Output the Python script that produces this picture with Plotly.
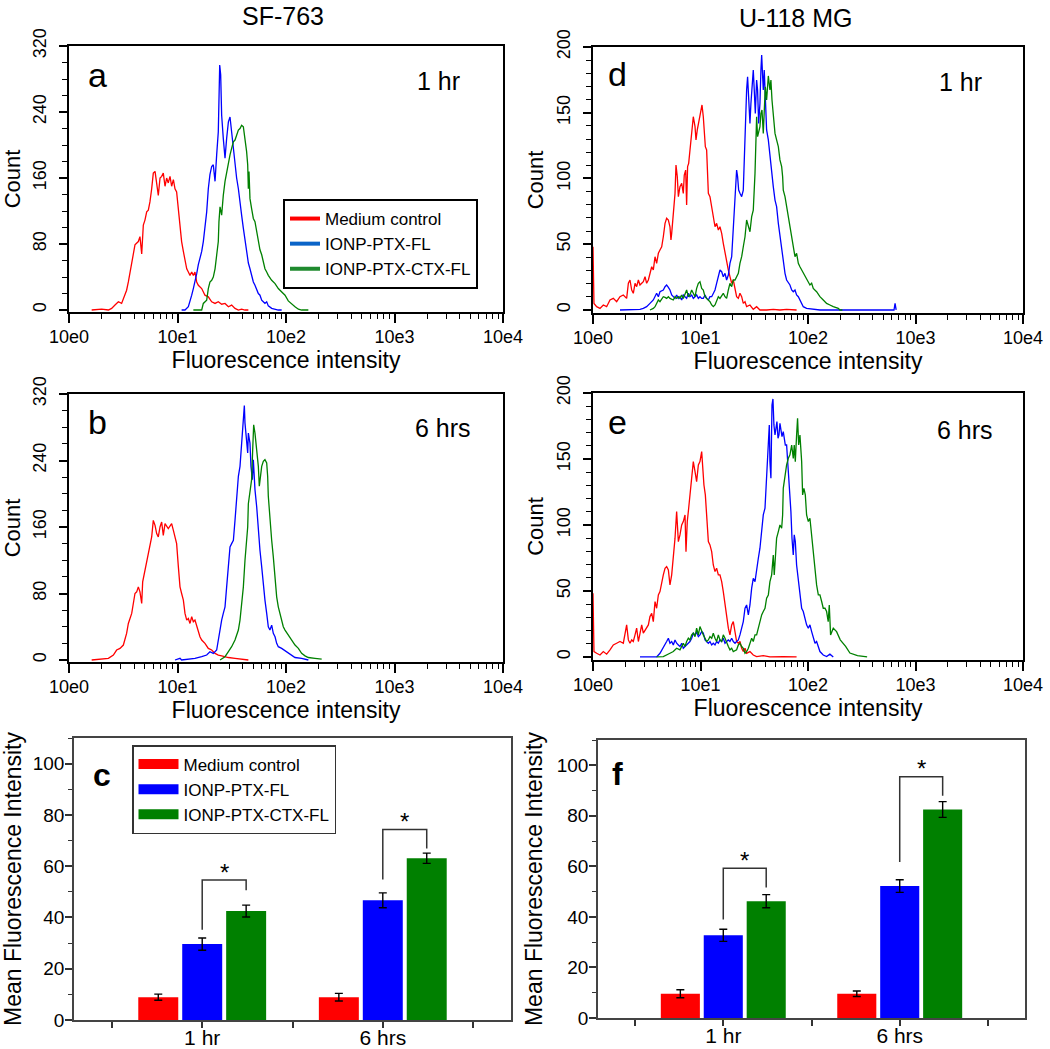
import plotly.graph_objects as go

FONT = "Liberation Sans, Arial, sans-serif"
W, H = 1050, 1049
RED, BLUE, GREEN = "#ff0000", "#0000ff", "#008000"

# ---------------- histogram data: log10(fluorescence intensity), count ----------------
a_red_lx = [0.209, 0.301, 0.363, 0.393, 0.424, 0.455, 0.485, 0.501, 0.531, 0.547, 0.562, 0.593, 0.608, 0.639, 0.654,
            0.670, 0.685, 0.700, 0.716, 0.731, 0.746, 0.762, 0.777, 0.793, 0.808, 0.823, 0.839, 0.854, 0.869, 0.885,
            0.900, 0.915, 0.931, 0.946, 0.962, 0.977, 0.992, 1.008, 1.023, 1.038, 1.054, 1.069, 1.085, 1.100, 1.115,
            1.131, 1.146, 1.161, 1.177, 1.192, 1.223, 1.253, 1.284, 1.315, 1.346, 1.376, 1.407, 1.438, 1.469, 1.499,
            1.530, 1.561, 1.591, 1.622, 1.653]
a_red_ct = [0, 1, 0, 2, 6, 10, 8, 14, 24, 34, 44, 67, 79, 83, 89, 68, 103, 109, 119, 121, 131, 147, 166, 168, 150,
            139, 160, 162, 166, 150, 160, 154, 162, 150, 158, 147, 143, 119, 95, 83, 71, 59, 50, 46, 42, 46, 42, 46,
            34, 30, 26, 18, 16, 10, 8, 10, 7, 8, 4, 6, 2, 0, 1, 0, 0]
a_blue_lx = [1.038, 1.069, 1.100, 1.115, 1.131, 1.146, 1.161, 1.177, 1.192, 1.207, 1.223, 1.238, 1.253, 1.269, 1.284,
             1.299, 1.315, 1.330, 1.346, 1.352, 1.361, 1.376, 1.382, 1.389, 1.398, 1.407, 1.422, 1.438, 1.453, 1.469,
             1.484, 1.499, 1.515, 1.530, 1.545, 1.561, 1.576, 1.591, 1.607, 1.622, 1.637, 1.653, 1.668, 1.683, 1.699,
             1.714, 1.730, 1.745, 1.760, 1.776, 1.791, 1.806, 1.822, 1.837, 1.868, 1.899, 1.929, 1.960]
a_blue_ct = [0, 0, 4, 10, 18, 26, 34, 44, 55, 63, 71, 83, 99, 119, 147, 164, 174, 176, 156, 172, 188, 216, 269, 297,
             285, 236, 208, 184, 208, 228, 234, 216, 192, 172, 160, 147, 127, 115, 99, 83, 67, 57, 50, 40, 34, 30, 24,
             20, 18, 12, 10, 8, 10, 5, 2, 1, 0, 0]
a_green_lx = [1.146, 1.223, 1.238, 1.253, 1.269, 1.284, 1.299, 1.315, 1.330, 1.346, 1.361, 1.376, 1.382, 1.392, 1.407,
              1.413, 1.422, 1.438, 1.453, 1.469, 1.484, 1.499, 1.515, 1.530, 1.545, 1.561, 1.576, 1.591, 1.607, 1.622,
              1.637, 1.647, 1.653, 1.659, 1.668, 1.683, 1.699, 1.714, 1.730, 1.745, 1.760, 1.776, 1.791, 1.806, 1.822,
              1.837, 1.868, 1.899, 1.929, 1.960, 1.991, 2.021, 2.052, 2.083, 2.114, 2.144, 2.206]
a_green_ct = [0, 0, 8, 10, 12, 26, 34, 36, 40, 50, 67, 83, 107, 125, 115, 131, 139, 156, 168, 180, 188, 196, 204, 206,
              212, 218, 220, 224, 222, 208, 192, 176, 147, 168, 135, 123, 111, 107, 95, 83, 73, 67, 59, 50, 46, 42,
              36, 32, 26, 22, 18, 11, 7, 4, 1, 0, 0]

b_red_lx = [0.209, 0.301, 0.363, 0.409, 0.439, 0.470, 0.501, 0.531, 0.547, 0.578, 0.593, 0.608, 0.624, 0.639, 0.654,
            0.670, 0.679, 0.700, 0.716, 0.731, 0.746, 0.762, 0.777, 0.793, 0.808, 0.823, 0.839, 0.854, 0.869, 0.885,
            0.915, 0.946, 0.962, 0.977, 0.992, 1.008, 1.023, 1.038, 1.054, 1.069, 1.085, 1.100, 1.115, 1.131, 1.146,
            1.161, 1.177, 1.192, 1.207, 1.223, 1.253, 1.284, 1.315, 1.346, 1.376, 1.407, 1.438, 1.469, 1.530, 1.591,
            1.653]
b_red_ct = [0, 1, 2, 6, 12, 14, 18, 32, 44, 56, 68, 80, 82, 88, 82, 68, 94, 108, 116, 124, 136, 148, 168, 162, 152,
            148, 160, 166, 150, 164, 158, 164, 156, 146, 140, 112, 88, 80, 72, 56, 48, 50, 44, 52, 46, 48, 40, 32, 28,
            24, 20, 14, 12, 8, 6, 5, 4, 3, 2, 1, 0]
b_blue_lx = [0.977, 1.023, 1.038, 1.115, 1.161, 1.223, 1.269, 1.299, 1.330, 1.361, 1.376, 1.392, 1.407, 1.422, 1.438,
             1.453, 1.469, 1.484, 1.499, 1.515, 1.530, 1.545, 1.561, 1.576, 1.591, 1.607, 1.616, 1.622, 1.637, 1.647,
             1.653, 1.668, 1.677, 1.690, 1.699, 1.714, 1.730, 1.745, 1.760, 1.776, 1.791, 1.806, 1.822, 1.837, 1.852,
             1.868, 1.883, 1.899, 1.914, 1.929, 1.960, 1.991, 2.021, 2.052, 2.083, 2.144, 2.206]
b_blue_ct = [0, 2, 0, 1, 2, 4, 6, 10, 8, 12, 24, 40, 48, 56, 64, 88, 120, 136, 140, 144, 168, 196, 221, 233, 265, 301,
             306, 285, 265, 249, 273, 261, 233, 217, 241, 205, 184, 152, 132, 112, 88, 72, 56, 40, 36, 42, 32, 28, 20,
             16, 14, 11, 8, 5, 3, 2, 0]
b_green_lx = [1.392, 1.438, 1.469, 1.499, 1.530, 1.561, 1.576, 1.591, 1.607, 1.622, 1.637, 1.647, 1.653, 1.668, 1.683,
              1.693, 1.702, 1.714, 1.730, 1.745, 1.754, 1.763, 1.776, 1.791, 1.806, 1.822, 1.831, 1.837, 1.852, 1.868,
              1.883, 1.899, 1.914, 1.929, 1.945, 1.960, 1.975, 1.991, 2.021, 2.052, 2.083, 2.114, 2.144, 2.175, 2.206,
              2.267, 2.329]
b_green_ct = [0, 4, 10, 16, 24, 36, 48, 64, 88, 120, 144, 160, 188, 205, 217, 253, 283, 273, 249, 233, 209, 221, 233,
              239, 241, 237, 221, 197, 168, 144, 124, 100, 76, 64, 56, 48, 40, 36, 30, 24, 18, 14, 8, 5, 3, 2, 1]

d_red_lx = [0.0, 0.009, 0.034, 0.065, 0.096, 0.127, 0.158, 0.189, 0.220, 0.251, 0.282, 0.313, 0.329, 0.344, 0.360,
            0.375, 0.391, 0.406, 0.422, 0.437, 0.453, 0.468, 0.484, 0.499, 0.515, 0.530, 0.546, 0.561, 0.577, 0.592,
            0.608, 0.623, 0.639, 0.654, 0.670, 0.685, 0.701, 0.716, 0.725, 0.732, 0.747, 0.763, 0.772, 0.784, 0.794,
            0.809, 0.825, 0.840, 0.849, 0.862, 0.871, 0.880, 0.890, 0.902, 0.918, 0.933, 0.949, 0.958, 0.970, 0.986,
            1.001, 1.014, 1.026, 1.035, 1.045, 1.057, 1.073, 1.088, 1.104, 1.119, 1.135, 1.150, 1.166, 1.181, 1.197,
            1.212, 1.228, 1.243, 1.259, 1.274, 1.290, 1.305, 1.321, 1.336, 1.352, 1.367, 1.383, 1.398, 1.414, 1.429,
            1.460, 1.491, 1.522, 1.553, 1.615, 1.677, 1.739, 1.801, 1.894]
d_red_ct = [48, 5, 2.5, 1.2, 3.8, 2.5, 7.6, 8.8, 6.3, 10.1, 11.4, 8.8, 20.3, 22.8, 15.2, 12.7, 20.3, 17.7, 22.8, 19.0,
            20.3, 21.5, 25.3, 20.3, 22.8, 27.9, 32.9, 30.4, 40.5, 35.5, 43.1, 45.6, 48.1, 55.7, 65.9, 69.7, 68.4,
            63.3, 53.2, 58.3, 73.5, 88.7, 110.2, 101.4, 86.2, 93.8, 96.3, 88.7, 102.6, 106.4, 79.8, 109.0, 111.5,
            121.7, 136.9, 147.0, 139.4, 129.3, 136.9, 144.5, 149.5, 155.9, 147.0, 136.9, 124.2, 121.7, 88.7, 86.2,
            78.6, 68.4, 63.3, 65.9, 60.8, 63.3, 58.3, 50.7, 43.1, 35.5, 30.4, 25.3, 20.3, 22.8, 15.2, 10.1, 8.8, 12.7,
            10.1, 5.0, 6.3, 2.5, 3.8, 0.5, 2.5, 0, 0, 0.5, 0, 0.5, 0]
d_blue_lx = [0.251, 0.282, 0.375, 0.437, 0.468, 0.499, 0.530, 0.561, 0.592, 0.608, 0.623, 0.654, 0.670, 0.685, 0.701,
             0.716, 0.732, 0.747, 0.763, 0.778, 0.794, 0.809, 0.825, 0.840, 0.856, 0.871, 0.887, 0.902, 0.918, 0.933,
             0.949, 0.964, 0.980, 0.995, 1.011, 1.026, 1.042, 1.057, 1.073, 1.088, 1.104, 1.119, 1.135, 1.150, 1.166,
             1.181, 1.197, 1.212, 1.228, 1.243, 1.259, 1.274, 1.290, 1.305, 1.321, 1.336, 1.345, 1.355, 1.367, 1.383,
             1.398, 1.407, 1.417, 1.429, 1.438, 1.448, 1.460, 1.469, 1.482, 1.491, 1.500, 1.510, 1.522, 1.531, 1.541,
             1.553, 1.562, 1.569, 1.578, 1.584, 1.593, 1.603, 1.615, 1.631, 1.646, 1.662, 1.677, 1.693, 1.708, 1.724,
             1.739, 1.755, 1.770, 1.786, 1.801, 1.817, 1.832, 1.848, 1.863, 1.879, 1.894, 1.910, 1.925, 1.956, 1.987,
             2.049, 2.111, 2.173, 2.800, 2.810, 2.820]
d_blue_ct = [0, 0, 0, 0.5, 1.2, 2.5, 5.0, 7.6, 12.7, 10.1, 13.9, 15.2, 17.7, 19.0, 17.2, 15.2, 11.4, 10.1, 8.8, 11.4,
             8.8, 10.1, 7.6, 11.4, 10.1, 8.8, 12.7, 10.1, 11.4, 8.8, 10.1, 11.4, 8.8, 10.1, 8.8, 8.8, 11.4, 8.8, 7.6,
             10.1, 10.1, 12.7, 15.2, 20.3, 25.3, 30.4, 29.1, 25.3, 27.9, 22.8, 26.6, 35.5, 40.5, 63.3, 93.8, 106.4,
             101.4, 91.2, 88.7, 86.2, 91.2, 116.6, 144.5, 167.3, 177.4, 159.7, 141.9, 157.1, 174.9, 182.5, 167.3,
             149.5, 174.9, 167.3, 141.9, 157.1, 182.5, 193.9, 177.4, 167.3, 182.5, 164.7, 136.9, 129.3, 116.6, 101.4,
             93.8, 83.6, 78.6, 65.9, 55.7, 45.6, 35.5, 27.9, 22.8, 20.3, 19.0, 15.2, 13.9, 15.2, 11.4, 10.1, 7.6, 2.5,
             1.2, 0.5, 0, 0, 0, 5, 0]
d_green_lx = [0.530, 0.561, 0.577, 0.592, 0.608, 0.623, 0.639, 0.654, 0.670, 0.685, 0.701, 0.716, 0.747, 0.763, 0.778,
              0.794, 0.809, 0.825, 0.840, 0.856, 0.871, 0.887, 0.902, 0.918, 0.933, 0.949, 0.964, 0.980, 0.995, 1.011,
              1.026, 1.042, 1.057, 1.073, 1.088, 1.104, 1.119, 1.135, 1.150, 1.166, 1.181, 1.197, 1.212, 1.228, 1.243,
              1.259, 1.274, 1.290, 1.305, 1.321, 1.336, 1.352, 1.367, 1.383, 1.398, 1.414, 1.429, 1.445, 1.460, 1.476,
              1.491, 1.507, 1.516, 1.522, 1.531, 1.541, 1.553, 1.562, 1.572, 1.584, 1.593, 1.603, 1.615, 1.631, 1.646,
              1.655, 1.665, 1.677, 1.693, 1.708, 1.724, 1.739, 1.755, 1.764, 1.770, 1.786, 1.801, 1.817, 1.832, 1.848,
              1.863, 1.879, 1.894, 1.910, 1.925, 1.941, 1.956, 1.972, 1.987, 2.003, 2.018, 2.034, 2.049, 2.080, 2.111,
              2.142, 2.173, 2.204, 2.235, 2.282, 2.297, 2.320]
d_green_ct = [0, 1.2, 2.5, 5.0, 7.6, 6.3, 8.8, 10.1, 9.6, 8.8, 10.1, 8.8, 7.6, 10.1, 8.8, 10.1, 8.8, 11.4, 8.8, 12.7,
              15.2, 10.1, 11.4, 15.2, 12.7, 10.1, 16.4, 20.3, 21.5, 16.4, 15.2, 10.1, 8.8, 7.6, 6.3, 3.8, 2.5, 3.8,
              7.6, 10.1, 8.8, 11.4, 12.7, 10.1, 8.8, 15.2, 20.3, 17.7, 22.8, 22.8, 25.3, 27.9, 35.5, 40.5, 48.1, 55.7,
              68.4, 63.3, 59.5, 71.0, 76.0, 103.9, 124.2, 147.0, 131.8, 136.9, 139.4, 149.5, 152.1, 134.3, 152.1,
              169.8, 159.7, 178.0, 167.3, 174.9, 159.7, 147.0, 134.3, 129.3, 124.2, 114.1, 109.0, 101.4, 91.2, 86.2,
              78.6, 68.4, 60.8, 53.2, 45.6, 40.5, 43.1, 35.5, 32.9, 30.4, 27.9, 25.3, 22.8, 20.3, 19.0, 20.3, 16.4,
              13.9, 10.1, 7.6, 5.0, 3.8, 2.5, 1.2, 0, 0]

e_red_lx = [0.0, 0.009, 0.034, 0.065, 0.096, 0.127, 0.158, 0.189, 0.220, 0.251, 0.282, 0.298, 0.313, 0.329, 0.344,
            0.360, 0.375, 0.391, 0.406, 0.422, 0.437, 0.453, 0.468, 0.484, 0.499, 0.515, 0.530, 0.546, 0.561, 0.577,
            0.592, 0.608, 0.623, 0.639, 0.654, 0.670, 0.685, 0.701, 0.716, 0.732, 0.747, 0.763, 0.778, 0.794, 0.809,
            0.825, 0.840, 0.856, 0.865, 0.877, 0.890, 0.902, 0.918, 0.933, 0.949, 0.964, 0.980, 0.995, 1.011, 1.020,
            1.032, 1.045, 1.057, 1.073, 1.088, 1.104, 1.119, 1.135, 1.150, 1.166, 1.181, 1.197, 1.212, 1.228, 1.243,
            1.259, 1.274, 1.290, 1.305, 1.321, 1.336, 1.352, 1.367, 1.383, 1.398, 1.414, 1.429, 1.460, 1.491, 1.522,
            1.584, 1.646, 1.770, 1.894]
e_red_ct = [48.3, 4.1, 2.8, 1.5, 4.1, 2.1, 5.4, 9.1, 10.4, 11.7, 10.4, 16.7, 24.3, 12.9, 10.4, 12.9, 11.7, 16.7, 21.8,
            11.7, 19.2, 24.3, 18.0, 20.5, 21.8, 24.3, 30.6, 33.1, 26.8, 42.0, 36.9, 47.0, 49.5, 57.1, 62.2, 67.2,
            68.5, 65.9, 54.6, 62.2, 74.8, 90.0, 110.1, 87.4, 92.5, 100.0, 102.6, 107.6, 79.8, 102.6, 112.7, 122.8,
            135.4, 148.0, 140.4, 132.9, 145.5, 148.0, 155.6, 144.2, 130.3, 122.8, 102.6, 87.4, 84.9, 79.8, 69.7,
            64.7, 67.2, 62.2, 62.2, 57.1, 49.5, 39.4, 29.3, 21.8, 16.7, 24.3, 26.8, 19.2, 11.7, 10.4, 11.7, 6.6, 4.1,
            6.6, 2.8, 4.1, 1.5, 0.3, 1.0, 0, 0.3, 0]
e_blue_lx = [0.437, 0.468, 0.592, 0.623, 0.639, 0.654, 0.670, 0.685, 0.701, 0.716, 0.732, 0.747, 0.763, 0.778, 0.794,
             0.809, 0.825, 0.840, 0.856, 0.871, 0.887, 0.902, 0.918, 0.933, 0.949, 0.964, 0.980, 0.995, 1.011, 1.026,
             1.042, 1.057, 1.073, 1.088, 1.104, 1.119, 1.135, 1.150, 1.166, 1.181, 1.197, 1.212, 1.228, 1.243, 1.259,
             1.274, 1.290, 1.305, 1.321, 1.336, 1.352, 1.367, 1.383, 1.398, 1.414, 1.429, 1.445, 1.460, 1.476, 1.491,
             1.507, 1.522, 1.538, 1.553, 1.569, 1.584, 1.600, 1.615, 1.631, 1.640, 1.646, 1.655, 1.665, 1.674, 1.683,
             1.693, 1.702, 1.711, 1.721, 1.730, 1.739, 1.748, 1.758, 1.770, 1.779, 1.789, 1.801, 1.817, 1.832, 1.841,
             1.851, 1.863, 1.872, 1.882, 1.894, 1.910, 1.925, 1.941, 1.956, 1.972, 1.987, 2.003, 2.018, 2.034, 2.049,
             2.065, 2.080, 2.096, 2.111, 2.142, 2.173, 2.204, 2.235]
e_blue_ct = [0, 0, 0, 2.8, 5.4, 6.6, 10.4, 11.7, 14.2, 10.4, 11.7, 9.1, 12.9, 10.4, 9.1, 7.9, 10.4, 6.6, 7.9, 9.1,
             10.4, 11.7, 14.2, 18.0, 16.7, 18.7, 15.4, 16.7, 19.2, 18.0, 12.9, 11.7, 10.4, 11.7, 9.1, 10.4, 9.1, 11.7,
             10.4, 12.9, 11.7, 14.2, 10.4, 11.7, 12.9, 11.7, 14.2, 11.7, 10.4, 11.7, 12.9, 16.7, 21.8, 26.8, 36.9,
             39.4, 31.9, 39.4, 52.1, 59.6, 57.1, 67.2, 74.8, 82.4, 97.5, 107.6, 112.7, 135.4, 165.7, 175.8, 148.0,
             135.4, 190.9, 195.5, 175.8, 168.2, 173.3, 178.3, 165.7, 168.2, 177.0, 173.3, 166.9, 170.7, 165.7, 160.6,
             160.6, 140.4, 125.3, 110.1, 90.0, 77.3, 92.5, 87.4, 69.7, 57.1, 44.5, 36.9, 34.4, 29.3, 24.3, 21.8,
             24.3, 19.2, 14.2, 10.4, 11.7, 6.6, 4.1, 1.5, 0.3, 2.1, 0]
e_green_lx = [0.592, 0.654, 0.716, 0.747, 0.778, 0.809, 0.840, 0.856, 0.871, 0.887, 0.902, 0.918, 0.933, 0.949, 0.964,
              0.980, 0.995, 1.011, 1.026, 1.042, 1.057, 1.073, 1.088, 1.104, 1.119, 1.135, 1.150, 1.166, 1.181, 1.197,
              1.212, 1.228, 1.243, 1.259, 1.274, 1.290, 1.305, 1.336, 1.352, 1.367, 1.383, 1.398, 1.414, 1.429, 1.445,
              1.460, 1.476, 1.491, 1.507, 1.522, 1.538, 1.553, 1.569, 1.584, 1.600, 1.615, 1.631, 1.646, 1.662, 1.677,
              1.686, 1.696, 1.708, 1.724, 1.739, 1.755, 1.764, 1.770, 1.786, 1.801, 1.817, 1.832, 1.848, 1.863, 1.872,
              1.882, 1.894, 1.903, 1.913, 1.925, 1.941, 1.950, 1.962, 1.975, 1.987, 2.003, 2.018, 2.034, 2.049, 2.065,
              2.080, 2.096, 2.111, 2.127, 2.142, 2.158, 2.173, 2.188, 2.198, 2.210, 2.235, 2.266, 2.300, 2.350, 2.390,
              2.460, 2.550]
e_green_ct = [0, 0.3, 2.8, 4.1, 6.6, 5.4, 10.4, 7.9, 11.7, 14.2, 12.9, 16.7, 18.0, 15.4, 21.8, 16.7, 23.0, 19.2, 16.7,
              14.2, 11.7, 12.9, 15.4, 14.2, 18.0, 14.2, 11.7, 16.7, 12.9, 11.7, 16.7, 14.2, 10.4, 7.9, 5.4, 6.6, 4.1,
              5.4, 9.1, 10.4, 7.9, 6.6, 2.8, 4.1, 6.6, 10.4, 14.2, 11.7, 16.7, 16.7, 21.8, 26.8, 31.9, 34.4, 36.9,
              44.5, 47.0, 57.1, 62.2, 77.3, 62.2, 74.8, 90.0, 95.0, 100.0, 97.5, 107.6, 127.8, 137.9, 145.5, 150.5,
              153.1, 160.6, 150.5, 160.6, 148.0, 168.2, 180.8, 160.6, 168.2, 148.0, 122.8, 127.8, 122.8, 107.6, 102.6,
              105.1, 92.5, 79.8, 64.7, 54.6, 47.0, 47.0, 42.0, 36.9, 36.9, 34.4, 26.8, 39.4, 16.7, 21.8, 19.2, 13, 8,
              3, 1, 0]

# ---------------- bar chart data ----------------
bar_cats = [1, 2]
bar_labels = ["1 hr", "6 hrs"]
series_names = ["Medium control", "IONP-PTX-FL", "IONP-PTX-CTX-FL"]
c_red, c_red_err = [8.9, 8.9], [1.2, 1.5]
c_blue, c_blue_err = [29.6, 46.7], [2.4, 2.9]
c_green, c_green_err = [42.5, 63.1], [2.3, 2.0]
f_red, f_red_err = [9.6, 9.6], [1.6, 1.1]
f_blue, f_blue_err = [32.7, 52.2], [2.4, 2.5]
f_green, f_green_err = [46.2, 82.5], [2.6, 3.1]
# significance brackets: top level, left end, right end, star level
c_br_top, c_br_left, c_br_right, c_star = [54.6, 74.3], [35.2, 54.8], [50.6, 66.9], [59.3, 79.5]
f_br_top, f_br_left, f_br_right, f_star = [59.3, 95.5], [39.0, 61.7], [51.6, 87.9], [64.3, 100.7]

# ---------------- layout helpers ----------------
def xd(p0, p1):
    return [p0 / W, p1 / W]

def yd(top, bottom):
    return [1 - bottom / H, 1 - top / H]

BARGAP = 0.27
SLOT = (1 - BARGAP) / 3

fig = go.Figure()

def hist_traces(lx_ct, xa, ya):
    for (lx, ct), col in zip(lx_ct, [RED, BLUE, GREEN]):
        fig.add_trace(go.Scatter(x=[10 ** v for v in lx], y=ct, mode="lines",
                                 line=dict(color=col, width=1.3), xaxis=xa, yaxis=ya,
                                 showlegend=False, hoverinfo="skip"))

hist_traces([(a_red_lx, a_red_ct), (a_blue_lx, a_blue_ct), (a_green_lx, a_green_ct)], "x", "y")
hist_traces([(b_red_lx, b_red_ct), (b_blue_lx, b_blue_ct), (b_green_lx, b_green_ct)], "x2", "y2")
hist_traces([(d_red_lx, d_red_ct), (d_blue_lx, d_blue_ct), (d_green_lx, d_green_ct)], "x4", "y4")
hist_traces([(e_red_lx, e_red_ct), (e_blue_lx, e_blue_ct), (e_green_lx, e_green_ct)], "x5", "y5")

# legend entries for the histogram legend (panel a)
for name, col in zip(series_names, ["#ff0000", "#0a64c8", "#1f8a2e"]):
    fig.add_trace(go.Scatter(x=[None], y=[None], mode="lines", name=name,
                             line=dict(color=col, width=4), xaxis="x", yaxis="y",
                             legend="legend", showlegend=True))

def bar_panel(vals, errs, br, xa, ya):
    for v, e, col in zip(vals, errs, [RED, BLUE, GREEN]):
        fig.add_trace(go.Bar(x=bar_cats, y=v, marker=dict(color=col, line=dict(width=0)),
                             error_y=dict(type="data", array=e, color="black", thickness=1.4, width=4),
                             xaxis=xa, yaxis=ya, showlegend=False))
    top, left, right, star = br
    bx, by = [], []
    for i, c in enumerate(bar_cats):
        xb, xg = c, c + SLOT
        bx += [xb, xb, xg, xg, None]
        by += [left[i], top[i], top[i], right[i], None]
        fig.add_annotation(x=(xb + xg) / 2, y=star[i], xref=xa, yref=ya, text="*",
                           showarrow=False, font=dict(size=24, family=FONT, color="black"),
                           yanchor="middle", yshift=-5)
    fig.add_trace(go.Scatter(x=bx, y=by, mode="lines", line=dict(color="#333333", width=1.5),
                             xaxis=xa, yaxis=ya, showlegend=False, hoverinfo="skip"))

bar_panel([c_red, c_blue, c_green], [c_red_err, c_blue_err, c_green_err],
          (c_br_top, c_br_left, c_br_right, c_star), "x3", "y3")
bar_panel([f_red, f_blue, f_green], [f_red_err, f_blue_err, f_green_err],
          (f_br_top, f_br_left, f_br_right, f_star), "x6", "y6")

# legend entries for bar legend (panel c)
for name, col in zip(series_names, [RED, BLUE, GREEN]):
    fig.add_trace(go.Scatter(x=[None], y=[None], mode="lines", name=name,
                             line=dict(color=col, width=14), xaxis="x3", yaxis="y3",
                             legend="legend2", showlegend=True))

major = [1, 10, 100, 1000, 10000]
major_txt = ["10e0", "10e1", "10e2", "10e3", "10e4"]
minor = [m * d for d in [1, 10, 100, 1000] for m in range(2, 10)]

def hist_x(dom, anchor):
    return dict(domain=dom, anchor=anchor, type="log", range=[0, 4], tickmode="array", automargin=False,
                tickvals=major, ticktext=major_txt, ticks="outside", ticklen=9, tickwidth=1.5,
                tickcolor="black", tickfont=dict(size=18, family=FONT, color="black"),
                ticklabelstandoff=-2,
                minor=dict(tickmode="array", tickvals=minor, ticks="outside", ticklen=5,
                           tickwidth=1.2, tickcolor="black"),
                showline=True, mirror=True, linecolor="black", linewidth=2, showgrid=False,
                zeroline=False,
                title=dict(text="Fluorescence intensity", font=dict(size=23, family=FONT, color="black"),
                           standoff=6))

def hist_y(dom, anchor, rng, dt, mdt):
    return dict(domain=dom, anchor=anchor, range=rng, tickmode="linear", tick0=0, dtick=dt, automargin=False,
                ticks="outside", ticklen=8, tickwidth=1.5, tickcolor="black", tickangle=-90,
                tickfont=dict(size=18, family=FONT, color="black"), ticklabelstandoff=6,
                minor=dict(dtick=mdt, tick0=0, ticks="outside", ticklen=5, tickwidth=1.2, tickcolor="black"),
                showline=True, mirror=True, linecolor="black", linewidth=2, showgrid=False,
                zeroline=False,
                title=dict(text="Count", font=dict(size=22, family=FONT, color="black"), standoff=4))

def bar_x(dom, anchor):
    return dict(domain=dom, anchor=anchor, range=[0.29, 2.71], tickmode="array", tickvals=bar_cats,
                ticktext=bar_labels, ticks="outside", ticklen=6, tickwidth=1.5, tickcolor="#333",
                automargin=False, ticklabelstandoff=-8,
                tickfont=dict(size=21, family=FONT, color="black"),
                minor=dict(tickmode="array", tickvals=[0.5, 1.5, 2.5], ticks="outside", ticklen=6,
                           tickwidth=1.5, tickcolor="#333"),
                showline=True, mirror=True, linecolor="#444", linewidth=1.6, showgrid=False, zeroline=False)

def bar_y(dom, anchor):
    return dict(domain=dom, anchor=anchor, range=[0, 110], tickmode="linear", tick0=0, dtick=20,
                ticks="outside", ticklen=7, tickwidth=1.5, tickcolor="#333", automargin=False,
                tickfont=dict(size=19, family=FONT, color="black"), ticklabelstandoff=-3,
                minor=dict(dtick=10, tick0=0, ticks="outside", ticklen=4, tickwidth=1.2, tickcolor="#333"),
                showline=True, mirror=True, linecolor="#444", linewidth=1.6, showgrid=False, zeroline=False,
                title=dict(text="Mean Fluorescence Intensity", font=dict(size=23, family=FONT, color="black"),
                           standoff=8))

fig.update_layout(
    template="none",
    width=W, height=H, margin=dict(l=0, r=0, t=0, b=0, pad=0, autoexpand=False),
    paper_bgcolor="white", plot_bgcolor="white",
    font=dict(family=FONT, color="black"),
    barmode="group", bargap=BARGAP, bargroupgap=0.09,
    xaxis=hist_x(xd(69, 503), "y"), yaxis=hist_y(yd(46, 312), "x", [-2.4, 320], 80, 20),
    xaxis2=hist_x(xd(69, 503), "y2"), yaxis2=hist_y(yd(394, 662), "x2", [-2.4, 320], 80, 20),
    xaxis3=bar_x(xd(74, 511), "y3"), yaxis3=bar_y(yd(738, 1020), "x3"),
    xaxis4=hist_x(xd(593, 1023), "y4"), yaxis4=hist_y(yd(47, 313), "x4", [-2.3, 200], 50, 10),
    xaxis5=hist_x(xd(593, 1023), "y5"), yaxis5=hist_y(yd(393, 660), "x5", [-2.3, 200], 50, 10),
    xaxis6=bar_x(xd(598, 1025), "y6"), yaxis6=bar_y(yd(740, 1018), "x6"),
    legend=dict(x=283 / W, y=1 - 199 / H, xanchor="left", yanchor="top", bgcolor="white",
                bordercolor="black", borderwidth=2, font=dict(size=17, family=FONT, color="black"),
                itemwidth=30, tracegroupgap=0),
    legend2=dict(x=132 / W, y=1 - 745 / H, xanchor="left", yanchor="top", bgcolor="white",
                 bordercolor="#333", borderwidth=1.5, font=dict(size=17, family=FONT, color="black"),
                 itemwidth=40, tracegroupgap=0),
)

def label(px, py, text, size, bold=False, yanchor="middle"):
    fig.add_annotation(x=px / W, y=1 - py / H, xref="paper", yref="paper",
                       text=f"<b>{text}</b>" if bold else text, showarrow=False,
                       xanchor="center", yanchor=yanchor,
                       font=dict(size=size, family=FONT, color="black"))

label(283, 0, "SF-763", 25, yanchor="top")
label(795, 2, "U-118 MG", 25, yanchor="top")
label(97, 75, "a", 34)
label(97, 422, "b", 34)
label(102, 775, "c", 32, bold=True)
label(617, 74, "d", 34)
label(617, 422, "e", 34)
label(617, 774, "f", 32, bold=True)
label(438, 81, "1 hr", 25)
label(443, 428, "6 hrs", 25)
label(960, 82, "1 hr", 25)
label(965, 430, "6 hrs", 25)

fig.write_html("out.html", config={"displayModeBar": False},
               post_script="document.body.style.margin='0';document.body.style.overflow='hidden';")
